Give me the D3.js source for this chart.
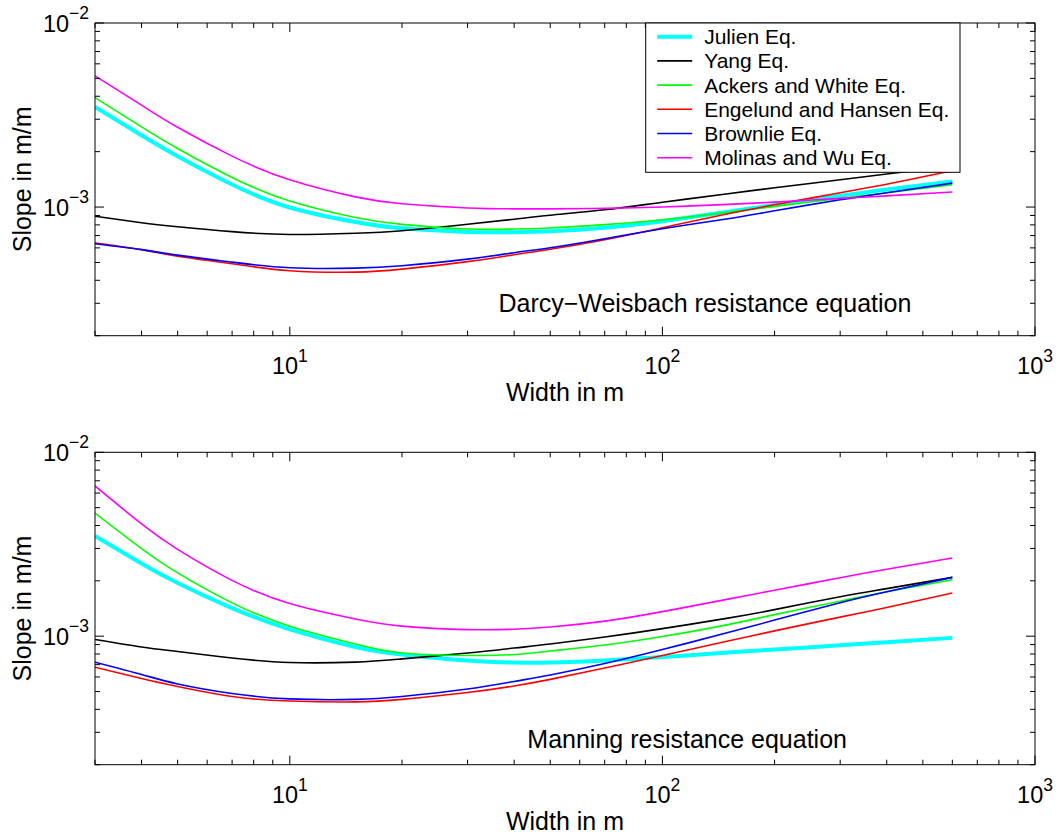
<!DOCTYPE html>
<html>
<head>
<meta charset="utf-8">
<script src="https://cdn.jsdelivr.net/npm/d3@7"></script>
<style>
  body { margin: 0; background: #fff; }
  svg { display: block; }
  text { font-family: "Liberation Sans", Arial, Helvetica, sans-serif; fill: #000; }
</style>
</head>
<body>
<svg id="chart" width="1060" height="837"></svg>
<script>
// Channel width (m) at which each slope curve is evaluated
const widths = [3, 4, 5, 7, 10, 15, 20, 30, 40, 50, 70, 100, 150, 200, 300, 400, 600];

const seriesNames = ["Julien Eq.", "Yang Eq.", "Ackers and White Eq.", "Engelund and Hansen Eq.", "Brownlie Eq.", "Molinas and Wu Eq."];

// Slope (m/m) with the Darcy-Weisbach resistance equation
const julienDW   = [3.50e-3, 2.455e-3, 1.889e-3, 1.326e-3, 9.94e-4, 8.29e-4, 7.66e-4, 7.32e-4, 7.30e-4, 7.39e-4, 7.72e-4, 8.38e-4, 9.43e-4, 1.027e-3, 1.152e-3, 1.247e-3, 1.377e-3];
const yangDW     = [8.92e-4, 8.22e-4, 7.82e-4, 7.35e-4, 7.10e-4, 7.21e-4, 7.44e-4, 8.07e-4, 8.59e-4, 9.03e-4, 9.67e-4, 1.062e-3, 1.181e-3, 1.273e-3, 1.406e-3, 1.511e-3, 1.669e-3];
const ackersDW   = [3.93e-3, 2.727e-3, 2.080e-3, 1.449e-3, 1.078e-3, 8.78e-4, 8.05e-4, 7.60e-4, 7.60e-4, 7.70e-4, 8.03e-4, 8.53e-4, 9.37e-4, 1.009e-3, 1.115e-3, 1.196e-3, 1.321e-3];
const engelundDW = [6.38e-4, 5.87e-4, 5.41e-4, 4.92e-4, 4.51e-4, 4.43e-4, 4.60e-4, 5.05e-4, 5.51e-4, 5.90e-4, 6.65e-4, 7.72e-4, 9.20e-4, 1.029e-3, 1.196e-3, 1.329e-3, 1.574e-3];
const brownlieDW = [6.32e-4, 5.87e-4, 5.48e-4, 5.02e-4, 4.68e-4, 4.66e-4, 4.80e-4, 5.21e-4, 5.65e-4, 6.01e-4, 6.73e-4, 7.63e-4, 8.64e-4, 9.55e-4, 1.095e-3, 1.196e-3, 1.349e-3];
const molinasDW  = [5.16e-3, 3.576e-3, 2.713e-3, 1.891e-3, 1.406e-3, 1.136e-3, 1.043e-3, 9.89e-4, 9.78e-4, 9.78e-4, 9.84e-4, 1.001e-3, 1.034e-3, 1.064e-3, 1.114e-3, 1.150e-3, 1.207e-3];

// Slope (m/m) with the Manning resistance equation
const julienMN   = [3.51e-3, 2.483e-3, 1.946e-3, 1.421e-3, 1.090e-3, 8.74e-4, 7.95e-4, 7.37e-4, 7.19e-4, 7.19e-4, 7.37e-4, 7.70e-4, 8.15e-4, 8.46e-4, 8.92e-4, 9.28e-4, 9.79e-4];
const yangMN     = [9.59e-4, 8.73e-4, 8.25e-4, 7.61e-4, 7.19e-4, 7.23e-4, 7.53e-4, 8.10e-4, 8.62e-4, 9.06e-4, 9.89e-4, 1.099e-3, 1.254e-3, 1.394e-3, 1.640e-3, 1.813e-3, 2.088e-3];
const ackersMN   = [4.67e-3, 2.992e-3, 2.208e-3, 1.518e-3, 1.133e-3, 9.06e-4, 8.10e-4, 7.85e-4, 7.95e-4, 8.30e-4, 8.95e-4, 9.95e-4, 1.156e-3, 1.310e-3, 1.550e-3, 1.746e-3, 2.028e-3];
const engelundMN = [6.78e-4, 5.89e-4, 5.33e-4, 4.70e-4, 4.44e-4, 4.39e-4, 4.53e-4, 4.94e-4, 5.36e-4, 5.82e-4, 6.71e-4, 7.85e-4, 9.41e-4, 1.069e-3, 1.269e-3, 1.433e-3, 1.718e-3];
const brownlieMN = [7.22e-4, 6.19e-4, 5.50e-4, 4.88e-4, 4.56e-4, 4.53e-4, 4.70e-4, 5.16e-4, 5.67e-4, 6.15e-4, 7.10e-4, 8.46e-4, 1.046e-3, 1.223e-3, 1.521e-3, 1.746e-3, 2.088e-3];
const molinasMN  = [6.56e-3, 4.077e-3, 2.966e-3, 2.011e-3, 1.504e-3, 1.240e-3, 1.134e-3, 1.086e-3, 1.091e-3, 1.121e-3, 1.207e-3, 1.360e-3, 1.590e-3, 1.779e-3, 2.080e-3, 2.313e-3, 2.660e-3];

const xDomain = [3, 1000];
const yDomain = [2e-4, 1e-2];
const panelTitles = ["Darcy\u2212Weisbach resistance equation", "Manning resistance equation"];
const titleAnchors = [[36.3, 2.70e-4], [43.4, 2.45e-4]];   // [width, slope] where each note starts
const xLabel = "Width in m";
const yLabel = "Slope in m/m";

// Styling
const colors = ["#00ffff", "#000000", "#00ff00", "#ff0000", "#0000ff", "#ff00ff"];
const lineWidths = [4, 1.6, 1.6, 1.6, 1.6, 1.6];
const FONT_TICK = 23.5, FONT_SUP = 17.5, FONT_LABEL = 25, FONT_LEGEND = 21;

const panels = [
  { top: 23,    bottom: 335.7, series: [julienDW, yangDW, ackersDW, engelundDW, brownlieDW, molinasDW], legend: true },
  { top: 452.3, bottom: 764.7, series: [julienMN, yangMN, ackersMN, engelundMN, brownlieMN, molinasMN], legend: false }
];
const LEFT = 95, RIGHT = 1035;

const svg = d3.select("#chart");
svg.append("rect").attr("width", 1060).attr("height", 837).attr("fill", "#fff");

const x = d3.scaleLog().domain(xDomain).range([LEFT, RIGHT]);

panels.forEach((p, pi) => {
  const y = d3.scaleLog().domain(yDomain).range([p.bottom, p.top]);
  const g = svg.append("g");

  const clipId = "clip" + pi;
  svg.append("clipPath").attr("id", clipId)
    .append("rect").attr("x", LEFT).attr("y", p.top)
    .attr("width", RIGHT - LEFT).attr("height", p.bottom - p.top);

  // curves
  const line = d3.line()
    .x((d, i) => x(widths[i]))
    .y(d => y(d))
    .curve(d3.curveNatural);
  const curves = g.append("g").attr("clip-path", `url(#${clipId})`);
  p.series.forEach((vals, si) => {
    curves.append("path")
      .attr("d", line(vals))
      .attr("fill", "none")
      .attr("stroke", colors[si])
      .attr("stroke-width", lineWidths[si])
      .attr("stroke-linejoin", "round");
  });

  // panel note
  g.append("text")
    .attr("x", x(titleAnchors[pi][0]))
    .attr("y", y(titleAnchors[pi][1]))
    .attr("font-size", FONT_LABEL)
    .text(panelTitles[pi]);

  // ticks (inward, on all four sides)
  const ax = g.append("g").attr("stroke", "#000").attr("stroke-width", 1);
  const isMajor = v => Math.abs(Math.log10(v) - Math.round(Math.log10(v))) < 1e-9;
  const MAJ = 9, MIN = 5;
  x.ticks().forEach(v => {
    const xp = x(v), len = isMajor(v) ? MAJ : MIN;
    ax.append("line").attr("x1", xp).attr("x2", xp).attr("y1", p.bottom).attr("y2", p.bottom - len);
    ax.append("line").attr("x1", xp).attr("x2", xp).attr("y1", p.top).attr("y2", p.top + len);
  });
  y.ticks().forEach(v => {
    const yp = y(v), len = isMajor(v) ? MAJ : MIN;
    ax.append("line").attr("x1", LEFT).attr("x2", LEFT + len).attr("y1", yp).attr("y2", yp);
    ax.append("line").attr("x1", RIGHT).attr("x2", RIGHT - len).attr("y1", yp).attr("y2", yp);
  });

  // axes box
  g.append("rect").attr("x", LEFT).attr("y", p.top)
    .attr("width", RIGHT - LEFT).attr("height", p.bottom - p.top)
    .attr("fill", "none").attr("stroke", "#000").attr("stroke-width", 1);

  // x tick labels 10^n
  x.ticks().filter(isMajor).forEach(v => {
    const n = Math.round(Math.log10(v));
    const t = g.append("text").attr("x", x(v)).attr("y", p.bottom + 38)
      .attr("text-anchor", "middle").attr("font-size", FONT_TICK);
    t.append("tspan").text("10");
    t.append("tspan").attr("dy", -12).attr("font-size", FONT_SUP)
      .text(String(n).replace("-", "\u2212"));
  });
  // y tick labels 10^n
  y.ticks().filter(isMajor).forEach(v => {
    const n = Math.round(Math.log10(v));
    const t = g.append("text").attr("x", 89).attr("y", y(v) + 9)
      .attr("text-anchor", "end").attr("font-size", FONT_TICK);
    t.append("tspan").text("10");
    t.append("tspan").attr("dy", -13).attr("font-size", FONT_SUP)
      .text(String(n).replace("-", "\u2212"));
  });

  // axis labels
  g.append("text").attr("x", (LEFT + RIGHT) / 2).attr("y", p.bottom + 65)
    .attr("text-anchor", "middle").attr("font-size", FONT_LABEL).text(xLabel);
  g.append("text")
    .attr("transform", `translate(31,${(p.top + p.bottom) / 2}) rotate(-90)`)
    .attr("text-anchor", "middle").attr("font-size", FONT_LABEL).text(yLabel);

  // legend
  if (p.legend) {
    const lg = g.append("g");
    const lx = 645.7, ly = p.top, lw = 314.3, lh = 149.3, rowH = 24.2, row0 = 13.7;
    lg.append("rect").attr("x", lx).attr("y", ly).attr("width", lw).attr("height", lh)
      .attr("fill", "#fff").attr("stroke", "#000").attr("stroke-width", 1);
    seriesNames.forEach((name, i) => {
      const cy = ly + row0 + i * rowH;
      lg.append("line").attr("x1", lx + 11.5).attr("x2", lx + 46.5)
        .attr("y1", cy).attr("y2", cy)
        .attr("stroke", colors[i]).attr("stroke-width", lineWidths[i]);
      lg.append("text").attr("x", lx + 58.5).attr("y", cy + 7.5)
        .attr("font-size", FONT_LEGEND).text(name);
    });
  }
});
</script>
</body>
</html>
